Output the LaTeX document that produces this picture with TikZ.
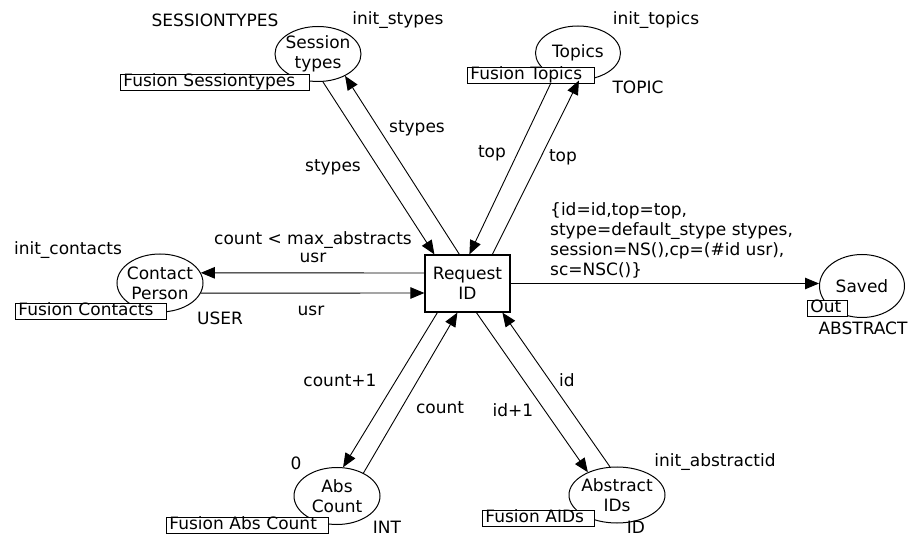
\documentclass[tikz,border=0pt]{standalone}
\usepackage{fontspec}
\setmainfont{DejaVu Sans}
\usetikzlibrary{shapes.geometric,arrows.meta}

\tikzset{
  lbl/.style={font=\fontsize{17}{20}\selectfont, inner sep=0pt},
  place/.style={draw, ellipse, line width=1pt, inner sep=0pt},
  trans/.style={draw, rectangle, line width=1.2pt, inner sep=0pt, fill=white},
  fusion/.style={draw, fill=white, line width=0.9pt, anchor=north west,
    font=\fontsize{17}{20}\selectfont, align=left, inner xsep=3pt, inner ysep=0pt,
    text height=12.5pt, text depth=3.5pt},
  arc/.style={line width=0.9pt, -{Triangle[length=14pt,width=11.5pt]}},
}

\begin{document}
\begin{tikzpicture}[x=1pt, y=-1pt]
\useasboundingbox[fill=white] (0,0) rectangle (911,537);

% places
\node[place, minimum width=86pt, minimum height=55pt] (st) at (318,54) {};
\node[place, minimum width=85pt, minimum height=54pt] (tp) at (578,53) {};
\node[place, minimum width=86pt, minimum height=58pt] (cp) at (160,283) {};
\node[place, minimum width=85pt, minimum height=63pt] (sv) at (862,286) {};
\node[place, minimum width=86pt, minimum height=57pt] (ac) at (337,496) {};
\node[place, minimum width=96pt, minimum height=56pt] (ai) at (617,495) {};

% place names
\node[lbl, align=center] (stn) at (st) {Session\\types};
\node[lbl] (tpn) at (tp) {Topics};
\node[lbl, align=center] (cpn) at (cp) {Contact\\Person};
\node[lbl] (svn) at (sv) {Saved};
\node[lbl, align=center] (acn) at (ac) {Abs\\Count};
\node[lbl, align=center] (ain) at (ai) {Abstract\\IDs};

% transition
\node[trans, minimum width=85pt, minimum height=57pt] (req) at (467.5,283.5) {};
\node[lbl, align=center] (reqn) at (req) {Request\\ID};

% arcs
\draw[arc] (st.-80) -- ([xshift=10pt]req.north west);
\draw[arc] ([xshift=35pt]req.north west) -- (st.-39);
\draw[arc] (tp.-136) -- ([xshift=45pt]req.north west);

\draw[arc] ([yshift=10.5pt]req.west) -- (cp.14);
\draw[arc] (cp.-14) -- ([yshift=-9.5pt]req.west);

\draw[arc] (req.east) -- (req.east -| sv.west);

\draw[arc] ([xshift=13pt]req.south west) -- (ac.78);
\draw[arc] (ac.41) -- ([xshift=33pt]req.south west);
\draw[arc] ([xshift=52pt]req.south west) -- (ai.142);
\draw[arc] (ai.104) -- ([xshift=78pt]req.south west);

% fusion and port tags
\node[fusion, text width=183pt] (fst) at (120,74) {Fusion Sessiontypes};
\node[fusion, text width=121pt] (ftp) at (467,67) {Fusion Topics};
\node[fusion, text width=145pt] (fcp) at (15,303) {Fusion Contacts};
\node[fusion, text width=34pt] (out) at (807,300) {Out};
\node[fusion, text width=156pt] (fac) at (166,517) {Fusion Abs Count};
\node[fusion, text width=106pt] (fai) at (482,510) {Fusion AIDs};

\draw[arc] ([xshift=68pt]req.north west) -- (tp.-88);

% colour sets and initial markings
\node[lbl] (cs1) at (215,20) {SESSIONTYPES};
\node[lbl] (im1) at (398,20) {init\_stypes};
\node[lbl] (im2) at (656,20) {init\_topics};
\node[lbl] (cs2) at (638,87) {TOPIC};
\node[lbl] (im3) at (68,250) {init\_contacts};
\node[lbl] (cs3) at (220,318) {USER};
\node[lbl] (cs4) at (863,328) {ABSTRACT};
\node[lbl] (im4) at (296,463) {0};
\node[lbl, anchor=base] (cs5) at (387,533) {INT};
\node[lbl] (im5) at (715,462) {init\_abstractid};
\node[lbl, anchor=base] (cs6) at (636,533) {ID};

% guard
\node[lbl] (grd) at (313,240) {count < max\_abstracts};

% arc inscriptions
\node[lbl] (a1) at (333,167) {stypes};
\node[lbl] (a2) at (417,128) {stypes};
\node[lbl] (a3) at (492,153) {top};
\node[lbl] (a4) at (563,157) {top};
\node[lbl] (a5) at (313,258) {usr};
\node[lbl] (a6) at (311,311) {usr};
\node[lbl] (a7) at (340,380) {count+1};
\node[lbl] (a8) at (440,408) {count};
\node[lbl] (a9) at (567,380) {id};
\node[lbl] (a10) at (513,410) {id+1};
\node[lbl, anchor=west, align=left] (a11) at (550,240)
  {\{id=id,top=top,\\stype=default\_stype stypes,\\session=NS(),cp=(\#id usr),\\sc=NSC()\}};
\end{tikzpicture}
\end{document}
